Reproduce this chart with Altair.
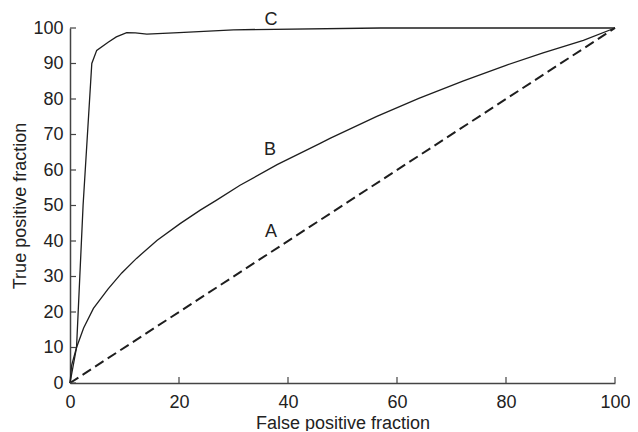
import altair as alt
import pandas as pd

FONT = "Liberation Sans"

# Curve A (chance line)
a_x = [0, 100]
a_y = [0, 100]

# Curve B
b_x = [0, 0.3, 1.2, 2.5, 4.3, 7.0, 9.5, 12.2, 16.0, 20.2, 23.9, 26.9, 31.2, 38.0, 45.9, 47.7, 56.3, 64.0, 72.2, 80.0, 86.8, 94.2, 100]
b_y = [0, 5.0, 10.0, 15.5, 21.0, 26.5, 31.0, 35.1, 40.2, 44.9, 48.7, 51.5, 55.7, 61.5, 67.5, 68.9, 75.1, 80.2, 85.1, 89.5, 93.0, 96.5, 100]

# Curve C
c_x = [0, 1.2, 1.8, 2.4, 3.0, 3.8, 4.0, 4.9, 7.0, 8.5, 10.4, 12.0, 14.1, 20.0, 30.0, 57.0, 100]
c_y = [0, 10.0, 30.0, 50.0, 65.0, 85.0, 90.0, 93.7, 96.0, 97.5, 98.7, 98.6, 98.3, 98.7, 99.5, 100, 100]

# Curve labels
lab_text = ["A", "B", "C"]
lab_x = [36.9, 36.7, 36.9]
lab_y = [42.5, 65.5, 102.3]

x_ticks = [20, 40, 60, 80, 100]
y_ticks = [0, 10, 20, 30, 40, 50, 60, 70, 80, 90, 100]

dfA = pd.DataFrame({"x": a_x, "y": a_y, "o": range(len(a_x))})
dfB = pd.DataFrame({"x": b_x, "y": b_y, "o": range(len(b_x))})
dfC = pd.DataFrame({"x": c_x, "y": c_y, "o": range(len(c_x))})
dfL = pd.DataFrame({"t": lab_text, "x": lab_x, "y": lab_y})
dfXT = pd.DataFrame({"x": x_ticks})
dfYT = pd.DataFrame({"y": y_ticks})

W, H = 545, 355

xs = alt.Scale(domain=[0, 100], nice=False, zero=False)
ys = alt.Scale(domain=[0, 100], nice=False, zero=False)

xax = alt.Axis(values=[0] + x_ticks, format="d", tickSize=0, labelPadding=10, grid=False,
               labelFlush=False, labelOverlap=False,
               title="False positive fraction", titlePadding=3)
yax = alt.Axis(values=y_ticks, format="d", tickSize=0, labelPadding=7, grid=False,
               labelFlush=False, labelOverlap=False,
               title="True positive fraction", titlePadding=3)

X = alt.X("x:Q", scale=xs, axis=xax)
Y = alt.Y("y:Q", scale=ys, axis=yax)

lineA = alt.Chart(dfA).mark_line(color="#1e1e1e", strokeWidth=2, strokeDash=[10, 5]).encode(
    x=X, y=Y, order="o:Q")
lineB = alt.Chart(dfB).mark_line(color="#1e1e1e", strokeWidth=1.3).encode(
    x=X, y=Y, order="o:Q")
lineC = alt.Chart(dfC).mark_line(color="#1e1e1e", strokeWidth=1.3).encode(
    x=X, y=Y, order="o:Q")

labels = alt.Chart(dfL).mark_text(font=FONT, fontSize=18, color="#222222").encode(
    x=X, y=Y, text="t:N")

# inward ticks
xticks = alt.Chart(dfXT).mark_rule(color="#444444", strokeWidth=1.2).encode(
    x=X, y=alt.value(H), y2=alt.value(H - 6))
yticks = alt.Chart(dfYT).mark_rule(color="#444444", strokeWidth=1.2).encode(
    y=Y, x=alt.value(0), x2=alt.value(6))

chart = alt.layer(lineA, lineB, lineC, labels, xticks, yticks).properties(
    width=W, height=H,
    autosize=alt.AutoSizeParams(type="none"),
    padding={"left": 62, "top": 20, "right": 15, "bottom": 48},
).configure_view(stroke=None).configure_axis(
    domainColor="#444444", domainWidth=1.5,
    labelFont=FONT, labelFontSize=18, labelColor="#222222",
    titleFont=FONT, titleFontSize=18, titleColor="#222222", titleFontWeight="normal",
)

chart.save("out.html", embed_options={"renderer": "svg", "actions": False})
